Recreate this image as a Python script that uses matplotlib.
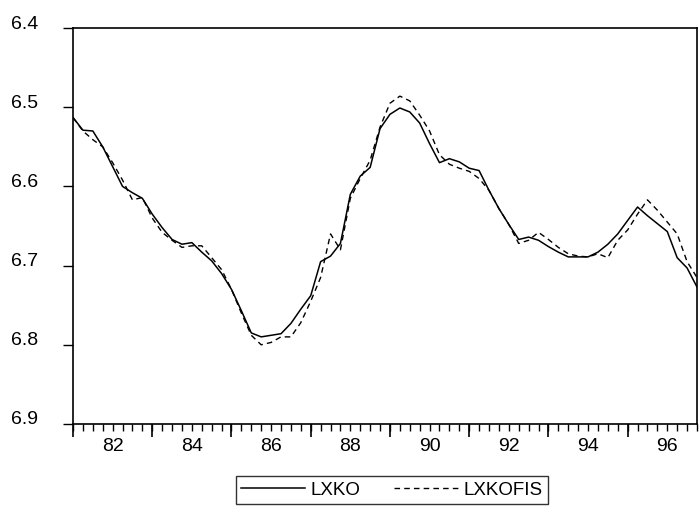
import numpy as np
import matplotlib.pyplot as plt
import matplotlib.transforms as mtransforms

plt.rcParams['font.family'] = ['Liberation Sans', 'DejaVu Sans']

# quarterly data, 1981Q1 - 1996Q4
start_year = 81
lxko = [6.513, 6.529, 6.530, 6.550, 6.575, 6.600, 6.608, 6.615,
        6.635, 6.652, 6.667, 6.673, 6.671, 6.683, 6.694, 6.710,
        6.730, 6.757, 6.785, 6.790, 6.788, 6.786, 6.773, 6.755,
        6.738, 6.695, 6.688, 6.672, 6.610, 6.587, 6.576, 6.527,
        6.509, 6.501, 6.506, 6.520, 6.546, 6.570, 6.565, 6.569,
        6.577, 6.580, 6.605, 6.628, 6.648, 6.667, 6.664, 6.668,
        6.676, 6.683, 6.689, 6.689, 6.689, 6.683, 6.673, 6.660,
        6.643, 6.626, 6.637, 6.647, 6.657, 6.690, 6.703, 6.727]
lxkofis = [6.513, 6.530, 6.541, 6.550, 6.570, 6.592, 6.617, 6.614,
           6.640, 6.658, 6.668, 6.677, 6.675, 6.675, 6.690, 6.705,
           6.730, 6.760, 6.788, 6.800, 6.797, 6.790, 6.790, 6.772,
           6.745, 6.715, 6.660, 6.680, 6.615, 6.590, 6.567, 6.525,
           6.495, 6.486, 6.492, 6.510, 6.530, 6.560, 6.572, 6.577,
           6.581, 6.590, 6.605, 6.628, 6.648, 6.672, 6.668, 6.658,
           6.667, 6.677, 6.685, 6.688, 6.689, 6.685, 6.690, 6.668,
           6.655, 6.635, 6.617, 6.630, 6.645, 6.660, 6.695, 6.715]
year_labels = ['82', '84', '86', '88', '90', '92', '94', '96']

t = start_year + np.arange(len(lxko)) / 4.0

fig = plt.figure(figsize=(7, 5.15), dpi=100)
ax = fig.add_axes([0.1043, 0.1767, 0.8914, 0.7689])

ax.plot(t, lxko, color='black', lw=1.1, label='LXKO')
ax.plot(t, lxkofis, color='black', lw=1.0, dashes=(4, 3), label='LXKOFIS')

ax.set_xlim(81, 96.75)
ax.set_ylim(6.9, 6.4)

ax.set_yticks([6.4, 6.5, 6.6, 6.7, 6.8, 6.9])
ax.set_yticklabels(['6.4', '6.5', '6.6', '6.7', '6.8', '6.9'])
ax.tick_params(axis='y', direction='out', length=7, width=1, pad=18, labelsize=14)
shift = mtransforms.ScaledTranslation(0, 6 / 100, fig.dpi_scale_trans)
for lab in ax.get_yticklabels():
    lab.set_transform(lab.get_transform() + shift)

ax.set_xticks([int(y) for y in year_labels])
ax.set_xticklabels(year_labels)
ax.set_xticks(np.arange(81, 96.8, 0.25), minor=True)
ax.tick_params(axis='x', which='major', direction='out', length=5, width=1, pad=5, labelsize=14)
ax.tick_params(axis='x', which='minor', direction='out', length=5, width=1)

# long ticks at the odd years
sec = ax.secondary_xaxis('bottom')
sec.set_xticks(np.arange(81, 97, 2))
sec.set_xticklabels([])
sec.tick_params(direction='out', length=9, width=1.2)
sec.spines['bottom'].set_visible(False)

for s in ax.spines.values():
    s.set_linewidth(1.2)

leg = ax.legend(loc='center', bbox_to_anchor=(0.56, 0.0485), bbox_transform=fig.transFigure,
                ncol=2, fontsize=13.5, frameon=True, fancybox=False, handlelength=3.4,
                handletextpad=0.3, columnspacing=1.8, borderpad=0.3, borderaxespad=0)
leg.get_frame().set_edgecolor('black')
leg.get_frame().set_linewidth(1.0)

fig.savefig('out.png', dpi=100)
